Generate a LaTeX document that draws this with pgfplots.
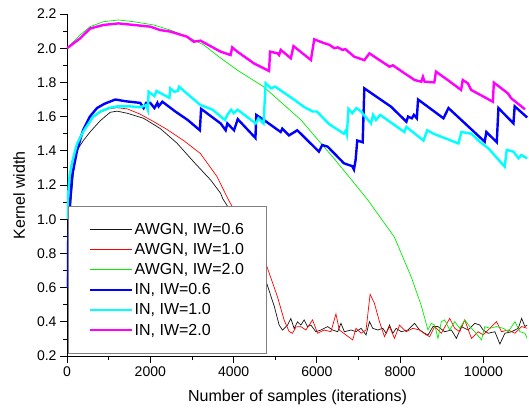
\documentclass[border=0pt]{standalone}
\usepackage{fontspec}
\setmainfont{Liberation Sans}
\usepackage{pgfplots}
\pgfplotsset{compat=1.18}

\definecolor{awgnA}{RGB}{20,20,20}
\definecolor{awgnB}{RGB}{255,0,0}
\definecolor{awgnC}{RGB}{0,235,0}
\definecolor{inA}{RGB}{0,0,255}
\definecolor{inB}{RGB}{0,255,255}
\definecolor{inC}{RGB}{255,0,255}

\begin{document}
\begin{tikzpicture}
\path[use as bounding box] (-67pt,-53pt) rectangle (462pt,356pt);
\begin{axis}[
    scale only axis,
    width=461pt, height=342pt,
    xmin=0, xmax=11070, ymin=0.2, ymax=2.2,
    axis x line*=bottom, axis y line*=left,
    axis line style={-, line width=0.8pt, black},
    xtick={0,2000,4000,6000,8000,10000},
    ytick={0.2,0.4,0.6,0.8,1.0,1.2,1.4,1.6,1.8,2.0,2.2},
    minor x tick num=1, minor y tick num=1,
    tick align=outside,
    major tick length=7pt, minor tick length=4pt,
    tick style={line width=0.8pt, black},
    scaled x ticks=false,
    /pgf/number format/assume math mode=true,
    xticklabel style={/pgf/number format/1000 sep={}, font=\fontsize{14}{14}\selectfont},
    yticklabel style={/pgf/number format/.cd, fixed, fixed zerofill, precision=1, 1000 sep={}, /tikz/.cd, font=\fontsize{14}{14}\selectfont},
    xlabel={Number of samples (iterations)},
    ylabel={Kernel width},
    xlabel style={at={(axis description cs:0.5,-0.12)}, anchor=center, font=\fontsize{16}{16}\selectfont},
    ylabel style={at={(axis description cs:-0.104,0.47)}, anchor=center, font=\fontsize{16}{16}\selectfont},
    legend style={at={(axis description cs:0.002,0.006)}, anchor=south west,
        draw=gray, line width=0.8pt, fill=white,
        font=\fontsize{16}{18}\selectfont,
        inner xsep=20pt, inner ysep=15pt, row sep=3.5pt,
        cells={anchor=west}},
    legend image code/.code={\draw[#1] (0pt,0pt) -- (42pt,0pt);},
]
% AWGN, IW=0.6
\addplot[awgnA, line width=0.7pt] coordinates {
(0,0.6) (20,0.75) (50,0.95) (100,1.12) (160,1.28) (233,1.40) (393,1.46) (554,1.51)
(795,1.575) (1036,1.625) (1200,1.632) (1440,1.62) (1840,1.59) (2240,1.53) (2640,1.445)
(3040,1.336) (3450,1.229) (3690,1.151) (3740,1.12) (4000,1.02) (4300,0.89) (4550,0.76)
(4770,0.644) (4980,0.488) (5094,0.381) (5175,0.352) (5295,0.381) (5375,0.42) (5455,0.36)
(5535,0.40) (5615,0.381) (5695,0.411) (5775,0.372) (5856,0.381) (5976,0.342) (6097,0.352)
(6177,0.362) (6258,0.372) (6378,0.352) (6499,0.342) (6579,0.391) (6659,0.342) (6820,0.352)
(6940,0.342) (7061,0.362) (7181,0.323) (7262,0.401) (7342,0.362) (7463,0.352) (7583,0.362)
(7663,0.333) (7744,0.381) (7824,0.333) (7904,0.362) (8025,0.342) (8186,0.352) (8346,0.391)
(8467,0.352) (8587,0.333) (8668,0.323) (8788,0.372) (8909,0.372) (9069,0.342) (9230,0.352)
(9350,0.303) (9471,0.372) (9632,0.352) (9792,0.391) (9913,0.381) (9993,0.352) (10113,0.333)
(10274,0.342) (10395,0.27) (10515,0.333) (10676,0.342) (10837,0.362) (10917,0.420)
(10997,0.372) (11050,0.381)
};
\addlegendentry{AWGN, IW=0.6}
% AWGN, IW=1.0
\addplot[awgnB, line width=0.7pt] coordinates {
(0,1.0) (30,1.12) (80,1.25) (150,1.36) (250,1.45) (400,1.53) (600,1.59) (800,1.625)
(1000,1.645) (1200,1.652) (1450,1.645) (1750,1.615) (2050,1.575) (2400,1.525) (2800,1.46)
(3200,1.385) (3600,1.25) (3880,1.112) (4300,0.93) (4550,0.84) (4770,0.744) (5053,0.547)
(5214,0.41) (5334,0.343) (5415,0.333) (5500,0.37) (5615,0.372) (5736,0.352) (5896,0.411)
(6017,0.333) (6177,0.352) (6338,0.342) (6458,0.446) (6539,0.352) (6699,0.323) (6860,0.294)
(6940,0.362) (7061,0.333) (7181,0.352) (7278,0.561) (7382,0.508) (7503,0.401) (7623,0.313)
(7744,0.372) (7864,0.303) (7985,0.381) (8145,0.342) (8306,0.362) (8467,0.352) (8627,0.323)
(8708,0.313) (8828,0.372) (8989,0.333) (9190,0.420) (9310,0.362) (9431,0.342) (9551,0.411)
(9712,0.303) (9872,0.342) (9993,0.323) (10113,0.352) (10314,0.401) (10435,0.342)
(10595,0.352) (10756,0.333) (10917,0.372) (11050,0.362)
};
\addlegendentry{AWGN, IW=1.0}
% AWGN, IW=2.0
\addplot[awgnC, line width=0.7pt] coordinates {
(0,2.0) (313,2.077) (554,2.126) (875,2.155) (1237,2.165) (1598,2.155) (2080,2.136)
(2482,2.106) (2885,2.067) (3285,2.019) (3647,1.95) (4100,1.87) (4720,1.775) (5620,1.58)
(6040,1.46) (6430,1.35) (7000,1.18) (7230,1.11) (7860,0.896) (8270,0.66) (8500,0.50)
(8668,0.352) (8748,0.391) (8828,0.381) (8909,0.303) (8989,0.401) (9069,0.411) (9190,0.352)
(9310,0.401) (9431,0.362) (9551,0.411) (9672,0.372) (9792,0.342) (9953,0.294) (10033,0.372)
(10153,0.362) (10314,0.372) (10475,0.362) (10595,0.342) (10756,0.401) (10876,0.342)
(10997,0.333) (11050,0.303)
};
\addlegendentry{AWGN, IW=2.0}
% IN, IW=0.6
\addplot[inA, line width=2.4pt] coordinates {
(0,0.6) (25,0.85) (60,1.05) (120,1.25) (240,1.40) (385,1.52) (550,1.60) (720,1.65)
(900,1.675) (1160,1.70) (1400,1.69) (1760,1.68) (1840,1.65) (1900,1.68) (2000,1.68)
(2100,1.65) (2170,1.68) (2200,1.66) (2290,1.687) (2600,1.63) (2900,1.58) (3190,1.52)
(3220,1.645) (3690,1.56) (3810,1.52) (3850,1.56) (4010,1.52) (4100,1.585) (4525,1.475)
(4545,1.61) (4730,1.58) (5130,1.51) (5170,1.53) (5330,1.49) (5530,1.52) (6050,1.395)
(6130,1.434) (6260,1.424) (6650,1.327) (6850,1.31) (6890,1.29) (6930,1.346) (6970,1.46)
(7100,1.45) (7140,1.765) (7780,1.658) (8150,1.57) (8190,1.60) (8280,1.59) (8330,1.61)
(8400,1.59) (8430,1.70) (9040,1.59) (9160,1.65) (10030,1.453) (10070,1.51) (10320,1.45)
(10360,1.65) (10720,1.56) (10750,1.66) (11050,1.595)
};
\addlegendentry{IN, IW=0.6}
% IN, IW=1.0
\addplot[inB, line width=2.4pt] coordinates {
(0,1.0) (20,1.12) (60,1.25) (120,1.33) (240,1.44) (385,1.51) (630,1.60) (800,1.63)
(1000,1.65) (1200,1.66) (1500,1.66) (1760,1.655) (1900,1.667) (1940,1.64) (1960,1.745)
(2100,1.72) (2150,1.75) (2300,1.73) (2460,1.71) (2480,1.765) (2580,1.745) (2660,1.75)
(2690,1.775) (3200,1.668) (3500,1.64) (3790,1.58) (3850,1.61) (3940,1.64) (4000,1.62)
(4100,1.64) (4530,1.56) (4600,1.59) (4720,1.56) (4770,1.795) (4900,1.765) (5000,1.775)
(5450,1.70) (5700,1.655) (5900,1.63) (6000,1.63) (6300,1.555) (6650,1.50) (6700,1.52)
(6720,1.50) (6760,1.645) (6850,1.62) (6950,1.65) (7060,1.63) (7300,1.56) (7350,1.61)
(7420,1.58) (7520,1.61) (8100,1.51) (8150,1.54) (8250,1.52) (8560,1.46) (8650,1.52)
(8800,1.50) (9400,1.443) (9470,1.51) (9710,1.50) (9910,1.453) (10120,1.414) (10510,1.307)
(10560,1.405) (10720,1.395) (10840,1.356) (10910,1.375) (11050,1.356)
};
\addlegendentry{IN, IW=1.0}
% IN, IW=2.0
\addplot[inC, line width=2.4pt] coordinates {
(0,2.0) (313,2.057) (554,2.115) (875,2.136) (1237,2.145) (1598,2.136) (2000,2.126)
(2241,2.106) (2482,2.097) (2885,2.067) (3044,2.038) (3205,2.044) (3687,1.98) (3928,1.96)
(3968,2.005) (4089,1.98) (4490,1.911) (4852,1.867) (4876,1.98) (5053,1.97) (5093,1.96)
(5133,1.99) (5375,1.941) (5439,2.012) (5857,1.931) (5937,2.052) (6178,2.029) (6300,2.02)
(6418,2.0) (6500,2.005) (6619,1.99) (6680,1.995) (6900,1.95) (7141,1.93) (7262,1.97)
(7383,1.95) (7744,1.892) (7824,1.90) (8106,1.853) (8347,1.814) (8507,1.804) (8547,1.833)
(8588,1.804) (8820,1.80) (8860,1.863) (9141,1.814) (9463,1.756) (9503,1.814) (9624,1.795)
(9704,1.756) (10226,1.687) (10250,1.799) (10587,1.736) (10667,1.707) (10997,1.643)
};
\addlegendentry{IN, IW=2.0}
\end{axis}
\end{tikzpicture}
\end{document}
